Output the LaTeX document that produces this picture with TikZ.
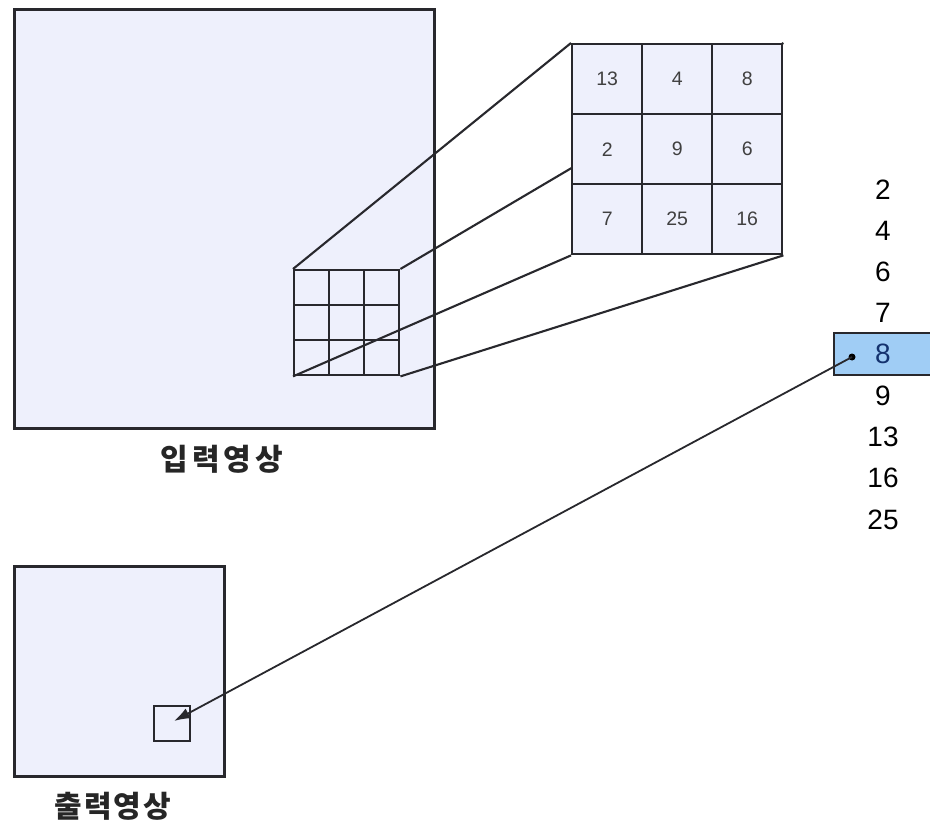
\documentclass[tikz,border=0pt]{standalone}
\usepackage{fontspec}
\setmainfont{Liberation Sans}
\newfontfamily\kr{Noto Sans CJK KR}
\usetikzlibrary{arrows.meta}
\pgfdeclarelayer{back}
\pgfdeclarelayer{mid}
\pgfsetlayers{back,mid,main}
\definecolor{panelfill}{RGB}{238,240,252}
\definecolor{edge}{RGB}{40,40,45}
\definecolor{hlfill}{RGB}{160,205,245}
\definecolor{hltext}{RGB}{20,50,110}
\tikzset{
  panel/.style={draw=edge, line width=2.8pt, fill=panelfill, anchor=north west, inner sep=0pt},
  smallcell/.style={draw=edge, line width=2.4pt, minimum width=35pt, minimum height=35pt, anchor=north west, inner sep=0pt},
  bigcell/.style={draw=edge, line width=2.4pt, fill=panelfill, minimum width=70pt, minimum height=70pt, anchor=north west, inner sep=0pt, text=black!75, font=\fontsize{19.5}{21}\selectfont},
  conn/.style={draw=edge, line width=2.1pt},
  listnum/.style={font=\fontsize{28}{30}\selectfont, inner sep=0pt, anchor=center},
  lbl/.style={font=\kr\fontsize{30}{32}\selectfont\bfseries, inner sep=0pt, text=black!85}
}
\begin{document}
\begin{tikzpicture}[x=1pt,y=-1pt]
\useasboundingbox (0,0) rectangle (930,824);
\begin{pgfonlayer}{back}
\fill[white] (0,0) rectangle (930,824);
% input image
\node[panel, minimum width=420pt, minimum height=419pt] (in) at (13,8) {};
\foreach \r in {1,2,3}{
  \foreach \c in {1,2,3}{
    \node[smallcell] (s\r\c) at ({293+35*(\c-1)},{269+35*(\r-1)}) {};
  }
}
\end{pgfonlayer}
\node[lbl] (inlbl) at (222,459) {입\hspace{4pt}력\hspace{4pt}영\hspace{4pt}상};
% big grid
\node[bigcell] (b11) at (571,43) {13};
\node[bigcell] (b12) at (641,43) {4};
\node[bigcell] (b13) at (711,43) {8};
\node[bigcell] (b21) at (571,113) {2};
\node[bigcell] (b22) at (641,113) {9};
\node[bigcell] (b23) at (711,113) {6};
\node[bigcell] (b31) at (571,183) {7};
\node[bigcell] (b32) at (641,183) {25};
\node[bigcell] (b33) at (711,183) {16};
\begin{pgfonlayer}{mid}
\draw[conn] (s11.north west) -- (b11.north west);
\draw[conn] (s13.north east) -- (b13.north east);
\draw[conn] (s31.south west) -- (b31.south west);
\draw[conn] (s33.south east) -- (b33.south east);
\end{pgfonlayer}
% sorted list
\node[draw=edge, line width=1.8pt, fill=hlfill, anchor=north west, minimum width=100pt, minimum height=42pt, inner sep=0pt] (hl) at (833,332) {};
\node[listnum] (n1) at (883,190) {2};
\node[listnum] (n2) at (883,231) {4};
\node[listnum] (n3) at (883,272) {6};
\node[listnum] (n4) at (883,313) {7};
\node[listnum, text=hltext] (n5) at (883,354) {8};
\node[listnum] (n6) at (883,396) {9};
\node[listnum] (n7) at (883,437) {13};
\node[listnum] (n8) at (883,478) {16};
\node[listnum] (n9) at (883,520) {25};
% output image
\node[panel, minimum width=210pt, minimum height=210pt] (out) at (13,565) {};
\node[panel, fill=none, line width=2.4pt, minimum width=36pt, minimum height=35pt] (os) at (153,705) {};
\node[lbl] (outlbl) at (113,806) {출\hspace{2pt}력\hspace{2pt}영\hspace{2pt}상};
\coordinate (dot) at (852,357);
\coordinate (tip) at (174,721);
\fill[black] (dot) circle (3.5pt);
\draw[conn, line width=1.8pt, -{Latex[length=16pt,width=11pt]}] (dot) -- (tip);
\end{tikzpicture}
\end{document}
